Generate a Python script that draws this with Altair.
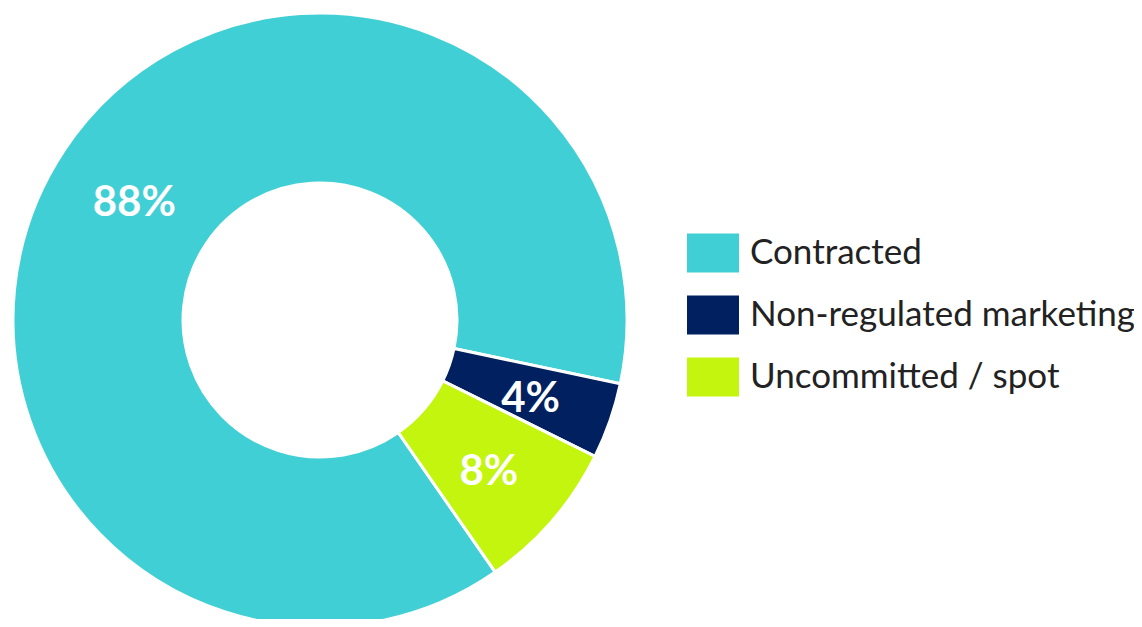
import altair as alt
import pandas as pd

categories = ["Contracted", "Non-regulated marketing", "Uncommitted / spot"]
shares = [88, 4, 8]
labels = ["88%", "4%", "8%"]
colors = ["#41CFD6", "#002060", "#C3F50F"]

df = pd.DataFrame({"cat": categories, "val": shares, "lab": labels, "ord": [0, 1, 2]})

start = 2.534

cx, cy = 312, 312

base = alt.Chart(df).encode(
    theta=alt.Theta("val:Q", stack=True),
    order=alt.Order("ord:Q"),
    x=alt.value(cx),
    y=alt.value(cy),
)

arcs = base.mark_arc(
    radius=307, radius2=137, stroke="white", strokeWidth=3,
    thetaOffset=start, theta2Offset=start,
).encode(
    color=alt.Color(
        "cat:N",
        scale=alt.Scale(domain=categories, range=colors),
        sort=categories,
        legend=alt.Legend(
            title=None,
            orient="none",
            legendX=679,
            legendY=219,
            symbolType="M-1,-0.75H1V0.75H-1Z",
            symbolSize=2704,
            symbolStrokeWidth=0,
            symbolOpacity=1,
            labelFont="Lato",
            labelFontSize=35,
            labelColor="#222222",
            labelOffset=11,
            rowPadding=16,
            labelLimit=500,
        ),
    )
)

text = base.mark_text(
    radius=223, font="Lato", fontSize=42, fontWeight="bold", color="white",
    thetaOffset=start, dy=6,
).encode(text="lab:N")

chart = alt.layer(arcs, text).properties(
    width=1126, height=611, autosize=alt.AutoSizeParams(type="none"), padding=0
).configure_view(stroke=None)

chart.save("out.html", embed_options={"renderer": "svg", "actions": False})
